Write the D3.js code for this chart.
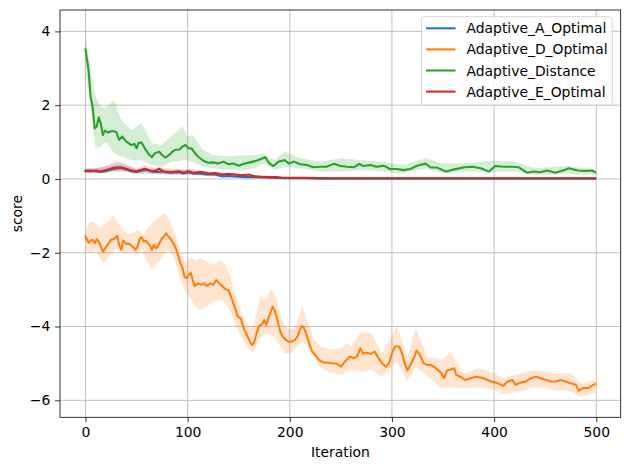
<!DOCTYPE html>
<html><head><meta charset="utf-8">
<script src="https://cdn.jsdelivr.net/npm/d3@7"></script>
<style>body{margin:0;background:#fff}svg{display:block}text{font-family:"DejaVu Sans",sans-serif;fill:#000}</style>
</head><body><svg id="c" width="630" height="470"></svg>
<script>
const seriesNames = ["Adaptive_A_Optimal","Adaptive_D_Optimal","Adaptive_Distance","Adaptive_E_Optimal"];
const colors = ["#1f77b4","#ff7f0e","#2ca02c","#d62728"];
const xTicks = [0,100,200,300,400,500];
const yTicks = [-6,-4,-2,0,2,4];

// [iteration, mean]
const aOptMean = [[0,0.23],[5,0.23],[10,0.21],[15,0.19],[21,0.22],[27,0.27],[34,0.30],[40,0.26],[45,0.21],[50,0.19],[55,0.22],[60,0.25],[65,0.20],[70,0.19],[75,0.20],[81,0.17],[86,0.17],[91,0.18],[96,0.15],[101,0.18],[106,0.14],[111,0.15],[118,0.12],[127,0.12],[134,0.07],[140,0.08],[147,0.07],[155,0.05],[166,0.05],[175,0.04],[186,0.03],[200,0.02],[215,0.02],[230,0.01],[300,0.01],[400,0.01],[499,0.01]];
const dOptMean = [[0,-1.56],[3,-1.73],[5,-1.67],[7,-1.65],[9,-1.74],[11,-1.63],[13,-1.70],[15,-1.83],[17,-1.97],[20,-1.85],[23,-1.74],[25,-1.65],[28,-1.63],[31,-1.54],[33,-1.79],[35,-1.92],[37,-1.67],[40,-1.76],[43,-1.76],[46,-1.83],[49,-1.92],[51,-1.83],[53,-1.63],[55,-1.58],[57,-1.70],[59,-1.67],[61,-1.74],[63,-1.79],[65,-1.92],[67,-1.79],[69,-1.88],[71,-1.81],[73,-1.70],[75,-1.61],[77,-1.56],[79,-1.47],[81,-1.56],[83,-1.61],[85,-1.70],[87,-1.79],[89,-1.92],[91,-2.10],[93,-2.28],[95,-2.42],[97,-2.66],[99,-2.69],[101,-2.60],[103,-2.54],[105,-2.74],[107,-2.90],[110,-2.83],[113,-2.87],[116,-2.83],[119,-2.90],[122,-2.83],[125,-2.87],[128,-2.74],[131,-2.83],[134,-2.90],[137,-2.99],[140,-3.01],[143,-3.23],[146,-3.46],[149,-3.73],[152,-3.78],[155,-4.05],[158,-4.23],[161,-4.41],[163,-4.50],[165,-4.45],[167,-4.23],[170,-3.98],[173,-3.93],[175,-3.82],[177,-3.96],[179,-3.78],[181,-3.64],[183,-3.46],[185,-3.55],[187,-3.73],[189,-3.96],[191,-4.16],[193,-4.27],[196,-4.36],[199,-4.41],[202,-4.41],[205,-4.36],[208,-4.25],[210,-4.08],[212,-3.98],[214,-4.04],[216,-4.18],[218,-4.36],[220,-4.54],[222,-4.68],[225,-4.77],[228,-4.89],[231,-4.95],[234,-4.98],[237,-4.98],[240,-4.99],[243,-5.00],[246,-5.00],[250,-5.09],[253,-4.98],[256,-4.89],[259,-4.82],[263,-4.86],[266,-4.80],[269,-4.59],[272,-4.74],[275,-4.71],[279,-4.74],[283,-4.68],[287,-4.86],[290,-4.98],[294,-5.09],[297,-5.00],[300,-4.72],[303,-4.54],[307,-4.54],[310,-4.72],[313,-5.04],[315,-5.19],[318,-5.04],[322,-4.82],[324,-4.65],[327,-4.74],[331,-5.00],[335,-5.04],[338,-5.04],[343,-5.13],[348,-5.25],[351,-5.40],[354,-5.19],[358,-5.16],[361,-5.13],[363,-5.31],[367,-5.36],[372,-5.45],[377,-5.40],[382,-5.36],[387,-5.38],[392,-5.43],[397,-5.49],[402,-5.52],[407,-5.58],[409,-5.61],[413,-5.49],[418,-5.45],[421,-5.58],[426,-5.52],[431,-5.49],[436,-5.40],[441,-5.36],[446,-5.40],[451,-5.45],[456,-5.49],[460,-5.49],[465,-5.45],[470,-5.49],[475,-5.54],[480,-5.58],[483,-5.74],[487,-5.67],[492,-5.67],[496,-5.60],[499,-5.56]];
const distMean = [[0,3.51],[3,2.95],[5,2.23],[7,1.96],[9,1.37],[11,1.42],[13,1.67],[15,1.50],[17,1.19],[19,1.31],[22,1.26],[26,1.30],[30,1.28],[33,1.06],[36,1.15],[40,1.01],[45,0.92],[48,0.95],[50,0.83],[52,0.98],[55,0.99],[58,0.83],[62,0.67],[65,0.59],[68,0.70],[72,0.74],[75,0.65],[78,0.58],[82,0.65],[85,0.74],[88,0.79],[92,0.80],[95,0.88],[98,0.92],[101,0.83],[104,0.83],[106,0.74],[110,0.61],[115,0.50],[120,0.44],[125,0.45],[130,0.42],[135,0.47],[140,0.40],[145,0.42],[150,0.36],[155,0.41],[161,0.45],[168,0.50],[176,0.59],[180,0.42],[184,0.35],[189,0.47],[195,0.51],[199,0.42],[204,0.47],[210,0.40],[217,0.38],[223,0.32],[230,0.33],[236,0.33],[243,0.41],[250,0.35],[256,0.33],[263,0.32],[268,0.41],[272,0.35],[279,0.38],[285,0.33],[292,0.36],[298,0.27],[305,0.27],[311,0.24],[318,0.27],[324,0.35],[333,0.42],[338,0.31],[344,0.31],[353,0.20],[361,0.26],[371,0.32],[379,0.33],[387,0.29],[395,0.20],[401,0.35],[410,0.33],[418,0.33],[424,0.32],[432,0.17],[439,0.20],[445,0.18],[452,0.23],[460,0.17],[469,0.24],[473,0.29],[482,0.23],[490,0.22],[496,0.23],[499,0.18]];
const eOptMean = [[0,0.21],[5,0.21],[10,0.23],[15,0.21],[21,0.25],[27,0.30],[34,0.32],[40,0.28],[45,0.23],[50,0.21],[55,0.25],[58,0.28],[63,0.23],[68,0.21],[72,0.28],[76,0.21],[81,0.19],[86,0.19],[91,0.21],[96,0.17],[101,0.21],[106,0.16],[111,0.19],[114,0.19],[120,0.15],[127,0.16],[134,0.12],[140,0.14],[147,0.12],[153,0.10],[160,0.12],[166,0.07],[173,0.06],[179,0.05],[186,0.05],[192,0.04],[202,0.03],[215,0.03],[240,0.02],[300,0.02],[400,0.02],[499,0.02]];

// [iteration, lower, upper]
const aOptBand = [[0,0.17,0.30],[10,0.15,0.29],[25,0.20,0.36],[35,0.22,0.40],[50,0.13,0.27],[65,0.14,0.28],[80,0.11,0.24],[100,0.11,0.24],[120,0.08,0.18],[140,0.03,0.13],[160,0.02,0.09],[180,0.01,0.06],[200,0.00,0.04],[230,0.00,0.02],[499,0.00,0.02]];
const dOptBand = [[0,-1.92,-1.38],[5,-2.01,-1.16],[10,-1.88,-1.20],[14,-2.15,-1.34],[18,-2.29,-1.22],[21,-2.20,-1.18],[24,-2.08,-1.11],[27,-1.98,-0.98],[31,-1.88,-1.15],[36,-2.01,-1.34],[41,-2.01,-1.50],[45,-1.97,-1.48],[50,-2.06,-1.40],[55,-1.92,-1.45],[57,-2.05,-1.56],[60,-2.20,-1.35],[65,-2.47,-1.20],[70,-2.29,-1.07],[75,-2.11,-0.98],[78,-2.00,-0.93],[81,-1.95,-1.07],[85,-2.06,-1.29],[90,-2.42,-1.65],[93,-2.74,-2.01],[98,-3.05,-2.29],[103,-3.25,-2.15],[108,-3.45,-2.20],[112,-3.55,-2.15],[119,-3.46,-2.24],[125,-3.32,-2.33],[132,-3.28,-2.20],[137,-3.37,-2.33],[142,-3.64,-2.65],[145,-3.82,-3.01],[150,-4.15,-3.37],[155,-4.40,-3.78],[161,-4.63,-4.00],[164,-4.72,-3.95],[166,-4.60,-3.82],[171,-4.30,-3.19],[174,-4.23,-3.25],[178,-4.18,-3.28],[181,-4.22,-2.96],[186,-4.32,-3.14],[191,-4.55,-3.73],[196,-4.72,-4.00],[201,-4.72,-4.09],[207,-4.55,-3.91],[212,-4.40,-3.42],[217,-4.54,-3.82],[224,-4.86,-4.36],[230,-5.10,-4.54],[240,-5.25,-4.63],[250,-5.30,-4.59],[256,-5.22,-4.45],[260,-5.18,-4.54],[270,-5.22,-4.14],[280,-5.18,-4.18],[290,-5.36,-4.72],[305,-4.95,-4.00],[315,-5.49,-4.81],[323,-5.09,-4.05],[335,-5.36,-4.81],[350,-5.67,-4.90],[357,-5.63,-4.68],[370,-5.67,-5.27],[385,-5.63,-5.13],[400,-5.72,-5.27],[410,-5.85,-5.40],[425,-5.76,-5.27],[440,-5.63,-5.18],[460,-5.72,-5.27],[475,-5.76,-5.27],[485,-5.90,-5.54],[499,-5.81,-5.45]];
const distBand = [[0,3.05,3.95],[5,1.96,2.95],[10,0.83,2.23],[15,0.88,1.96],[20,1.01,1.92],[28,0.70,2.14],[35,0.61,1.60],[45,0.51,1.33],[55,0.51,1.51],[65,0.38,0.97],[75,0.33,0.92],[85,0.47,1.19],[95,0.51,1.42],[100,0.51,1.15],[105,0.47,1.19],[115,0.33,0.79],[125,0.29,0.65],[140,0.24,0.61],[155,0.23,0.65],[165,0.29,0.65],[175,0.42,0.70],[185,0.24,0.51],[195,0.33,0.74],[210,0.29,0.56],[230,0.20,0.47],[250,0.20,0.56],[270,0.24,0.51],[290,0.20,0.47],[310,0.15,0.38],[333,0.29,0.56],[350,0.15,0.42],[370,0.20,0.42],[400,0.20,0.50],[420,0.20,0.47],[440,0.11,0.29],[470,0.14,0.35],[499,0.11,0.26]];
const eOptBand = [[0,0.16,0.26],[10,0.17,0.29],[20,0.17,0.36],[31,0.20,0.48],[40,0.19,0.40],[50,0.15,0.28],[58,0.19,0.38],[65,0.15,0.31],[75,0.14,0.30],[90,0.14,0.27],[100,0.14,0.27],[110,0.12,0.25],[120,0.10,0.20],[135,0.08,0.17],[150,0.06,0.14],[165,0.04,0.10],[180,0.03,0.07],[200,0.02,0.04],[250,0.01,0.03],[499,0.01,0.03]];

const means = [aOptMean, dOptMean, distMean, eOptMean];
const bands = [aOptBand, dOptBand, distBand, eOptBand];

const L = 60, T = 10, R = 620.7, B = 417.3;
const svg = d3.select("#c");
const x = d3.scaleLinear().domain([-24.95, 523.95]).range([L, R]);
const y = d3.scaleLinear().domain([-6.46, 4.58]).range([B, T]);
const lw = 2.08;

// grid
const g = svg.append("g");
g.selectAll(".gx").data(xTicks).join("line")
  .attr("x1", d => x(d)).attr("x2", d => x(d)).attr("y1", T).attr("y2", B)
  .attr("stroke", "#b0b0b0").attr("stroke-width", 0.8);
g.selectAll(".gy").data(yTicks).join("line")
  .attr("y1", d => y(d)).attr("y2", d => y(d)).attr("x1", L).attr("x2", R)
  .attr("stroke", "#b0b0b0").attr("stroke-width", 0.8);

svg.append("clipPath").attr("id","pc").append("rect")
  .attr("x", L).attr("y", T).attr("width", R-L).attr("height", B-T);
const plot = svg.append("g").attr("clip-path","url(#pc)");

const area = d3.area().x(d => x(d[0])).y0(d => y(d[1])).y1(d => y(d[2]));
const line = d3.line().x(d => x(d[0])).y(d => y(d[1]));

means.forEach((m, i) => {
  plot.append("path").attr("d", area(bands[i])).attr("fill", colors[i]).attr("fill-opacity", 0.2).attr("stroke","none");
  plot.append("path").attr("d", line(m)).attr("fill","none").attr("stroke", colors[i])
    .attr("stroke-width", lw).attr("stroke-linejoin","round").attr("stroke-linecap","square");
});

// axes
const fmt = d => d < 0 ? "\u2212" + Math.abs(d) : String(d);
const xAxis = svg.append("g").attr("transform", `translate(0,${B})`)
  .call(d3.axisBottom(x).tickValues(xTicks).tickFormat(fmt).tickSize(4.86).tickPadding(4.86));
const yAxis = svg.append("g").attr("transform", `translate(${L},0)`)
  .call(d3.axisLeft(y).tickValues(yTicks).tickFormat(fmt).tickSize(4.86).tickPadding(4.86));
[xAxis, yAxis].forEach(a => {
  a.select(".domain").remove();
  a.selectAll(".tick line").attr("stroke", "#000").attr("stroke-width", 0.8);
  a.selectAll(".tick text").attr("font-family", "DejaVu Sans").attr("font-size", 13.9).attr("fill","#000");
});
svg.append("rect").attr("x", L).attr("y", T).attr("width", R-L).attr("height", B-T)
  .attr("fill","none").attr("stroke","#000").attr("stroke-width",0.8);

svg.append("text").attr("x", (L+R)/2).attr("y", 457).attr("text-anchor","middle")
  .attr("font-size", 13.9).text("Iteration");
svg.append("text").attr("transform", `translate(22,${(T+B)/2}) rotate(-90)`).attr("text-anchor","middle")
  .attr("font-size", 13.9).text("score");

// legend
const lg = svg.append("g");
lg.append("rect").attr("x", 421.5).attr("y", 16.7).attr("width", 190.8).attr("height", 88.3)
  .attr("rx", 2.8).attr("fill", "#fff").attr("fill-opacity", 0.8).attr("stroke", "#cccccc").attr("stroke-width", 0.8);
seriesNames.forEach((n, i) => {
  const yy = 28.3 + i * 21.1;
  lg.append("line").attr("x1", 426).attr("x2", 455.5).attr("y1", yy).attr("y2", yy)
    .attr("stroke", colors[i]).attr("stroke-width", lw);
  lg.append("text").attr("x", 466.5).attr("y", yy).attr("dy", "0.36em").attr("font-size", 13.9).text(n);
});
</script></body></html>
